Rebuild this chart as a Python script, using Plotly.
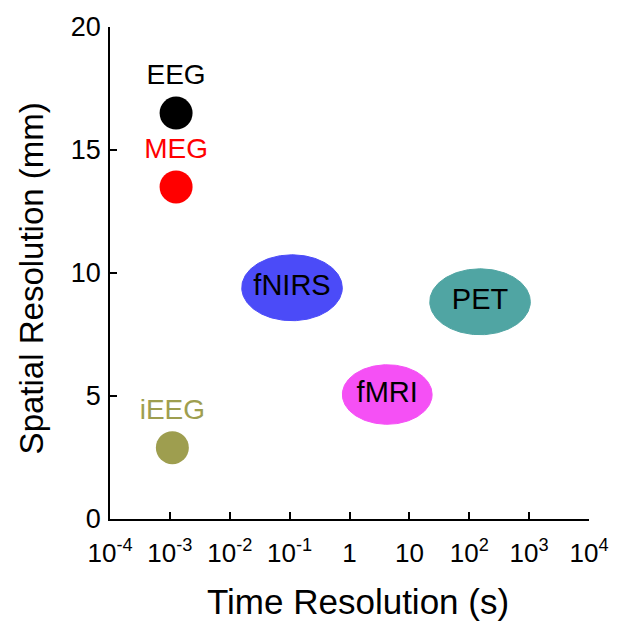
import numpy as np
import plotly.graph_objects as go

# Point-like modalities (time resolution in s, spatial resolution in mm)
point_names = ["EEG", "MEG", "iEEG"]
point_time = [1.27e-3, 1.27e-3, 1.1e-3]
point_space = [16.5, 13.5, 2.9]
point_colors = ["#000000", "#ff0000", "#9e9e4f"]

# Region-like modalities drawn as ellipses (centre and half-extent, x in decades)
region_names = ["fNIRS", "PET", "fMRI"]
region_log_time = [-0.96, 2.18, 0.63]
region_space = [9.4, 8.83, 5.06]
region_half_decades = [0.84, 0.84, 0.75]
region_half_mm = [1.34, 1.34, 1.21]
region_colors = ["#4b4bf8", "#50a5a3", "#f550f5"]

tick_vals = [1e-4, 1e-3, 1e-2, 1e-1, 1, 10, 1e2, 1e3, 1e4]
tick_text = ["10<sup>-4</sup>", "10<sup>-3</sup>", "10<sup>-2</sup>", "10<sup>-1</sup>",
             "1", "10", "10<sup>2</sup>", "10<sup>3</sup>", "10<sup>4</sup>"]

x_title = "Time Resolution (s)"
y_title = "Spatial Resolution (mm)"

FONT = "Liberation Sans, Arial, sans-serif"

fig = go.Figure()

t = np.linspace(0, 2 * np.pi, 200)
for name, lx, y, rx, ry, col in zip(region_names, region_log_time, region_space,
                                    region_half_decades, region_half_mm, region_colors):
    fig.add_trace(go.Scatter(
        x=10 ** (lx + rx * np.cos(t)), y=y + ry * np.sin(t),
        mode="lines", fill="toself", fillcolor=col,
        line=dict(color=col, width=1), hoverinfo="skip", showlegend=False))
    fig.add_trace(go.Scatter(
        x=[10 ** lx], y=[y], mode="text", text=[name],
        textfont=dict(family=FONT, size=29, color="#000000"),
        showlegend=False))

fig.add_trace(go.Scatter(
    x=point_time, y=point_space, mode="markers+text",
    marker=dict(size=33, color=point_colors, line=dict(width=0)),
    text=point_names, textposition="top center",
    textfont=dict(family=FONT, size=28, color=point_colors),
    showlegend=False))

fig.update_layout(
    width=635, height=624,
    margin=dict(l=110, r=46, t=24, b=105),
    paper_bgcolor="white", plot_bgcolor="white",
    font=dict(family=FONT, color="#000000"),
    xaxis=dict(
        type="log", range=[-4, 4], tickvals=tick_vals, ticktext=tick_text,
        showgrid=False, zeroline=False, showline=True, linecolor="#000000", linewidth=1.5,
        ticks="inside", ticklen=7, tickwidth=1.5, tickcolor="#000000",
        tickfont=dict(family=FONT, size=26), ticklabelstandoff=10,
    ),
    yaxis=dict(
        range=[0, 20], tickvals=[0, 5, 10, 15, 20],
        showgrid=False, zeroline=False, showline=True, linecolor="#000000", linewidth=1.5,
        ticks="inside", ticklen=7, tickwidth=1.5, tickcolor="#000000",
        tickfont=dict(family=FONT, size=27), ticklabelstandoff=2,
    ),
    annotations=[
        dict(text=x_title, xref="paper", yref="paper", x=0.518, y=-0.168,
             xanchor="center", yanchor="middle", showarrow=False,
             font=dict(family=FONT, size=35, color="#000000")),
        dict(text=y_title, xref="paper", yref="paper", x=-0.165, y=0.489,
             xanchor="center", yanchor="middle", textangle=-90, showarrow=False,
             font=dict(family=FONT, size=33, color="#000000")),
    ],
)

fig.write_html("out.html")
